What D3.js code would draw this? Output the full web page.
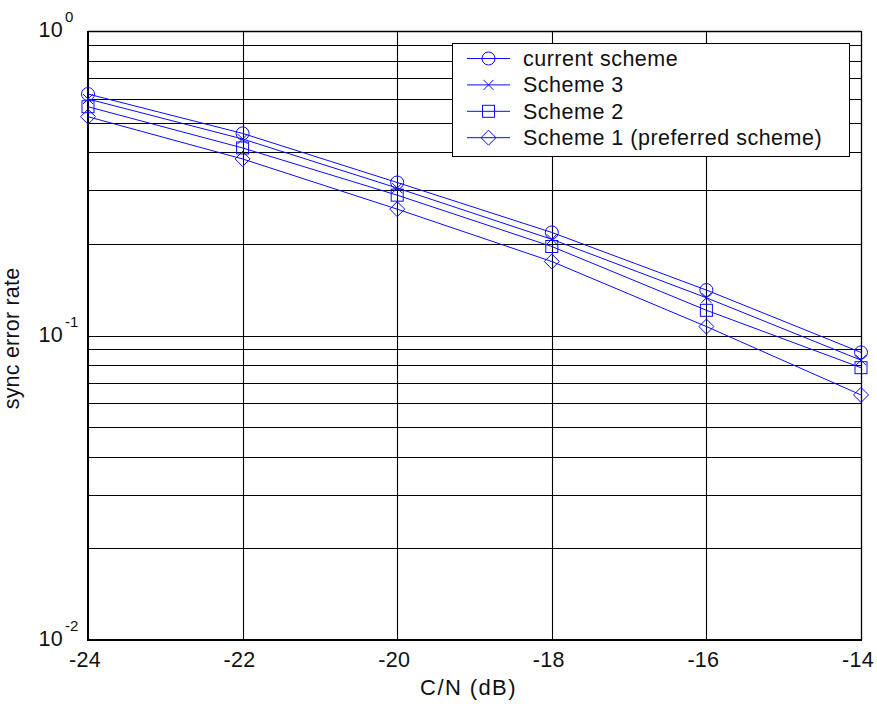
<!DOCTYPE html>
<html>
<head>
<meta charset="utf-8">
<script src="https://cdn.jsdelivr.net/npm/d3@7"></script>
<style>
  body { margin: 0; background: #fff; }
  svg text { font-family: "Liberation Sans", Arial, Helvetica, sans-serif; fill: #111; }
</style>
</head>
<body>
<div id="chart"></div>
<script>
// values
const snr = [-24, -22, -20, -18, -16, -14];
const currentScheme = [0.621, 0.461, 0.318, 0.218, 0.141, 0.088];
const scheme3 = [0.598, 0.442, 0.305, 0.207, 0.133, 0.083];
const scheme2 = [0.564, 0.413, 0.289, 0.196, 0.121, 0.0784];
const scheme1 = [0.523, 0.380, 0.260, 0.175, 0.107, 0.0638];

const seriesNames = ["current scheme", "Scheme 3", "Scheme 2", "Scheme 1 (preferred scheme)"];
const seriesMarkers = ["circle", "cross", "square", "diamond"];
const seriesValues = [currentScheme, scheme3, scheme2, scheme1];

const xTicks = [-24, -22, -20, -18, -16, -14];
const yMajor = [1, 0.1, 0.01];
const yExp = ["0", "-1", "-2"];

const W = 877, H = 704;
const margin = { top: 31, right: 16, bottom: 64, left: 88 };
const width = W - margin.left - margin.right;
const height = H - margin.top - margin.bottom;
const blue = "#0a0aff";

const svg = d3.select("#chart").append("svg")
    .attr("width", W)
    .attr("height", H);

const g = svg.append("g")
    .attr("transform", `translate(${margin.left},${margin.top})`);

const x = d3.scaleLinear().domain([-24, -14]).range([0, width]);
const y = d3.scaleLog().domain([0.01, 1]).range([height, 0]);

// horizontal grid: every minor step of each decade
let yGrid = [];
[0.01, 0.1].forEach(d => {
    for (let k = 1; k <= 9; k++) yGrid.push(d * k);
});
g.append("g").selectAll("line")
    .data(yGrid.filter(v => v > 0.01))
    .join("line")
    .attr("x1", 0).attr("x2", width)
    .attr("y1", d => Math.round(y(d)) + 0.5)
    .attr("y2", d => Math.round(y(d)) + 0.5)
    .attr("stroke", "#000")
    .attr("stroke-width", 1.1);

// vertical grid
g.append("g").selectAll("line")
    .data(xTicks.slice(1, -1))
    .join("line")
    .attr("x1", d => Math.round(x(d)) + 0.5)
    .attr("x2", d => Math.round(x(d)) + 0.5)
    .attr("y1", 0).attr("y2", height)
    .attr("stroke", "#000")
    .attr("stroke-width", 1.1);

// frame: top/right thin, left/bottom heavier
g.append("line").attr("x1", 0).attr("x2", width).attr("y1", 0.5).attr("y2", 0.5)
    .attr("stroke", "#000").attr("stroke-width", 1.3);
g.append("line").attr("x1", width + 0.5).attr("x2", width + 0.5).attr("y1", 0).attr("y2", height)
    .attr("stroke", "#000").attr("stroke-width", 1.3);
g.append("line").attr("x1", 0).attr("x2", 0).attr("y1", 0).attr("y2", height + 1)
    .attr("stroke", "#000").attr("stroke-width", 2);
g.append("line").attr("x1", -1).attr("x2", width + 1).attr("y1", height).attr("y2", height)
    .attr("stroke", "#000").attr("stroke-width", 2);

// x tick labels
g.append("g").selectAll("text")
    .data(xTicks)
    .join("text")
    .attr("x", d => x(d) - 3)
    .attr("y", height + 27)
    .attr("text-anchor", "middle")
    .style("font-size", "21.5px")
    .style("letter-spacing", "0.3px")
    .text(d => d);

// y tick labels: 10 with superscript exponent
const yl = g.append("g").selectAll("g")
    .data(yMajor)
    .join("g")
    .attr("transform", d => `translate(0,${y(d)})`);
yl.append("text")
    .attr("x", -25)
    .attr("y", 6)
    .attr("text-anchor", "end")
    .style("font-size", "21.5px")
    .style("letter-spacing", "0.3px")
    .text("10");
yl.append("text")
    .attr("x", -23)
    .attr("y", -9)
    .attr("text-anchor", "start")
    .style("font-size", "15px")
    .text((d, i) => yExp[i]);

// axis labels
g.append("text")
    .attr("x", width / 2 - 6)
    .attr("y", height + 55)
    .attr("text-anchor", "middle")
    .style("font-size", "22px")
    .style("letter-spacing", "1.4px")
    .text("C/N (dB)");

g.append("text")
    .attr("transform", "rotate(-90)")
    .attr("x", -height / 2 - 3)
    .attr("y", -69)
    .attr("text-anchor", "middle")
    .style("font-size", "21.5px")
    .style("letter-spacing", "0.2px")
    .text("sync error rate");

// marker drawer
function drawMarker(sel, type) {
    if (type === "circle") {
        sel.append("circle").attr("r", 6.5)
            .attr("fill", "none").attr("stroke", blue).attr("stroke-width", 1);
    } else if (type === "square") {
        sel.append("rect").attr("x", -6).attr("y", -6).attr("width", 12).attr("height", 12)
            .attr("fill", "none").attr("stroke", blue).attr("stroke-width", 1);
    } else if (type === "diamond") {
        sel.append("path").attr("d", "M0,-7.5L7.5,0L0,7.5L-7.5,0Z")
            .attr("fill", "none").attr("stroke", blue).attr("stroke-width", 1);
    } else {
        sel.append("path").attr("d", "M-5,-5L5,5M-5,5L5,-5")
            .attr("fill", "none").attr("stroke", blue).attr("stroke-width", 1);
    }
}

const line = d3.line()
    .x(d => x(d[0]))
    .y(d => y(d[1]));

seriesValues.forEach((vals, i) => {
    const pts = snr.map((s, j) => [s, vals[j]]);
    g.append("path")
        .datum(pts)
        .attr("d", line)
        .attr("fill", "none")
        .attr("stroke", blue)
        .attr("stroke-width", 1);
    g.append("g").selectAll("g")
        .data(pts)
        .join("g")
        .attr("transform", d => `translate(${x(d[0])},${y(d[1])})`)
        .each(function () { drawMarker(d3.select(this), seriesMarkers[i]); });
});

// legend
const legend = g.append("g")
    .attr("transform", `translate(${452 - margin.left},${43 - margin.top})`);
legend.append("rect")
    .attr("x", 0.5).attr("y", 0.5)
    .attr("width", 397).attr("height", 113)
    .attr("fill", "#fff")
    .attr("stroke", "#000")
    .attr("stroke-width", 1);
seriesNames.forEach((name, i) => {
    const row = legend.append("g")
        .attr("transform", `translate(0,${15.5 + i * 26.4})`);
    row.append("line")
        .attr("x1", 15).attr("x2", 58)
        .attr("stroke", blue).attr("stroke-width", 1);
    drawMarker(row.append("g").attr("transform", "translate(36.5,0)"), seriesMarkers[i]);
    row.append("text")
        .attr("x", 71)
        .attr("y", 7.5)
        .style("font-size", "21.5px")
        .style("letter-spacing", "0.5px")
        .text(name);
});
</script>
</body>
</html>
